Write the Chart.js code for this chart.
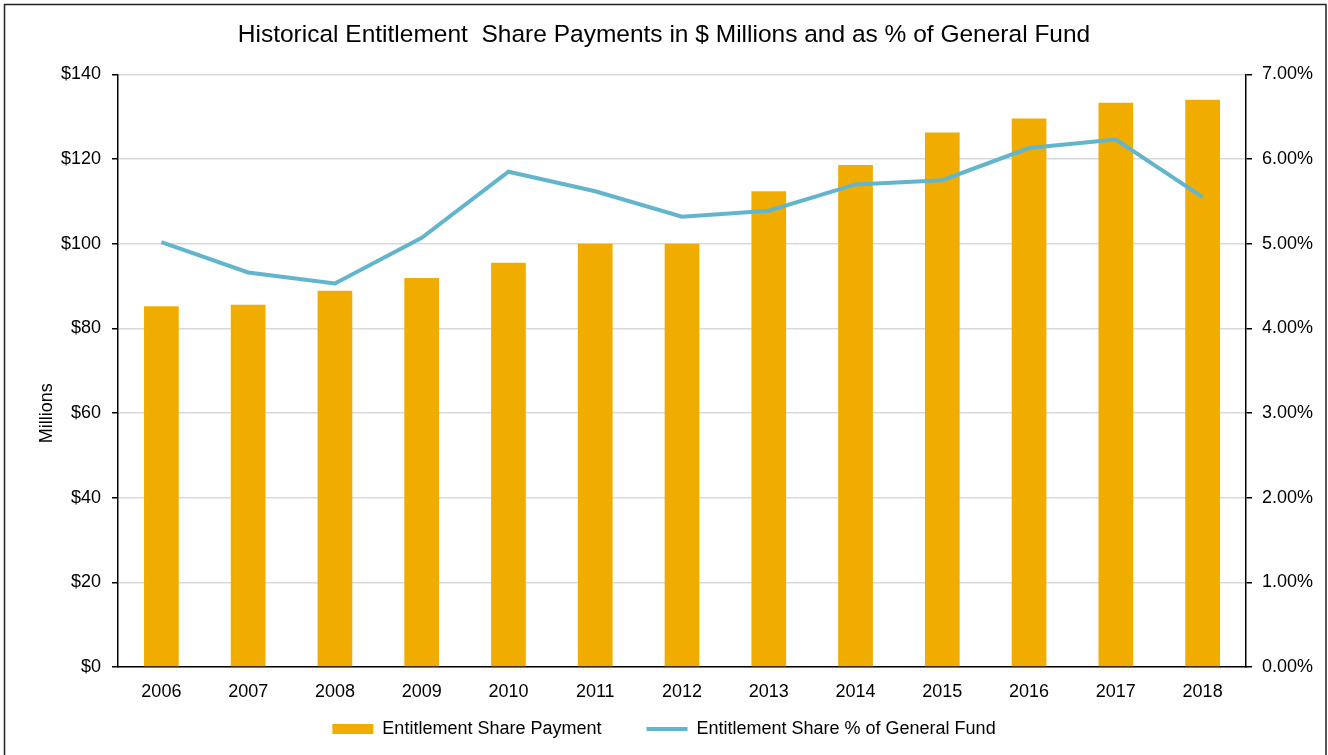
<!DOCTYPE html>
<html>
<head>
<meta charset="utf-8">
<script src="https://cdn.jsdelivr.net/npm/chart.js@4"></script>
<style>
  html, body { margin: 0; padding: 0; background: #fff; }
  #wrap { position: relative; width: 1328px; height: 755px; }
</style>
</head>
<body>
<div id="wrap"><canvas id="esChart" width="1328" height="755"></canvas></div>
<script>
// Data
const years = ['2006', '2007', '2008', '2009', '2010', '2011', '2012', '2013', '2014', '2015', '2016', '2017', '2018'];
const payments = [85.2, 85.6, 88.9, 91.9, 95.5, 100.0, 100.0, 112.4, 118.6, 126.3, 129.6, 133.3, 134.0];
const sharePct = [5.02, 4.66, 4.53, 5.07, 5.85, 5.62, 5.32, 5.39, 5.70, 5.75, 6.13, 6.23, 5.55];

const fontFamily = '"Liberation Sans", Arial, sans-serif';
Chart.defaults.font.family = fontFamily;
Chart.defaults.color = '#000';

// thin frame around the whole picture
const framePlugin = {
    id: 'frame',
    afterDraw(chart) {
        const c = chart.ctx;
        c.save();
        c.strokeStyle = '#222';
        c.lineWidth = 1.5;
        c.strokeRect(4.5, 4.5, 1321.5, 770);
        c.restore();
    }
};

const ctx = document.getElementById('esChart').getContext('2d');
new Chart(ctx, {
    data: {
        labels: years,
        datasets: [{
            type: 'line',
            label: 'Entitlement Share % of General Fund',
            data: sharePct,
            yAxisID: 'y1',
            borderColor: '#62b5cc',
            borderWidth: 4,
            pointRadius: 0,
            tension: 0,
            order: 0
        }, {
            type: 'bar',
            label: 'Entitlement Share Payment',
            data: payments,
            yAxisID: 'y',
            backgroundColor: '#f0ad00',
            barPercentage: 0.4,
            categoryPercentage: 1,
            order: 1
        }]
    },
    options: {
        responsive: false,
        animation: false,
        layout: { padding: { left: 0, right: 0, top: 0, bottom: 7 } },
        plugins: {
            title: {
                display: true,
                text: 'Historical Entitlement  Share Payments in $ Millions and as % of General Fund',
                font: { size: 24.5, weight: 'normal' },
                color: '#000',
                padding: { top: 21, bottom: 24 }
            },
            legend: {
                position: 'bottom',
                labels: {
                    usePointStyle: true,
                    pointStyleWidth: 41,
                    boxWidth: 41,
                    boxHeight: 10,
                    padding: 10,
                    font: { size: 18 },
                    generateLabels(chart) {
                        const items = Chart.defaults.plugins.legend.labels.generateLabels(chart);
                        items.forEach(it => {
                            const ds = chart.data.datasets[it.datasetIndex];
                            if (ds.type === 'bar') {
                                it.pointStyle = 'rect';
                                it.lineWidth = 0;
                                it.strokeStyle = 'rgba(0,0,0,0)';
                                // extra space before the next legend entry
                                it.text = it.text + '\u00a0'.repeat(7);
                            } else {
                                it.pointStyle = 'line';
                                it.lineWidth = 4;
                            }
                        });
                        return items.reverse();
                    }
                }
            },
            tooltip: { enabled: false }
        },
        scales: {
            x: {
                grid: { display: false, drawTicks: false },
                border: { display: true, color: '#000', width: 1.5 },
                ticks: { font: { size: 18 }, padding: 14 },
                afterFit(scale) { scale.height = 43; }
            },
            y: {
                position: 'left',
                min: 0,
                max: 140,
                ticks: {
                    stepSize: 20,
                    font: { size: 18 },
                    padding: 11,
                    callback: v => '$' + v
                },
                grid: { color: '#d9d9d9', lineWidth: 1.5, tickLength: 6, tickColor: '#000' },
                border: { display: true, color: '#000', width: 1.5 },
                title: {
                    display: true,
                    text: 'Millions' + '\u00a0'.repeat(17),
                    font: { size: 18 },
                    padding: { top: 36, bottom: 0 }
                },
                afterFit(scale) { scale.width = 118; }
            },
            y1: {
                position: 'right',
                min: 0,
                max: 7,
                ticks: {
                    stepSize: 1,
                    font: { size: 18 },
                    padding: 10,
                    callback: v => v.toFixed(2) + '%'
                },
                grid: { drawOnChartArea: false, tickLength: 6, tickColor: '#000', lineWidth: 1.5 },
                border: { display: true, color: '#000', width: 1.5 },
                afterFit(scale) { scale.width = 82; }
            }
        }
    },
    plugins: [framePlugin]
});
</script>
</body>
</html>
